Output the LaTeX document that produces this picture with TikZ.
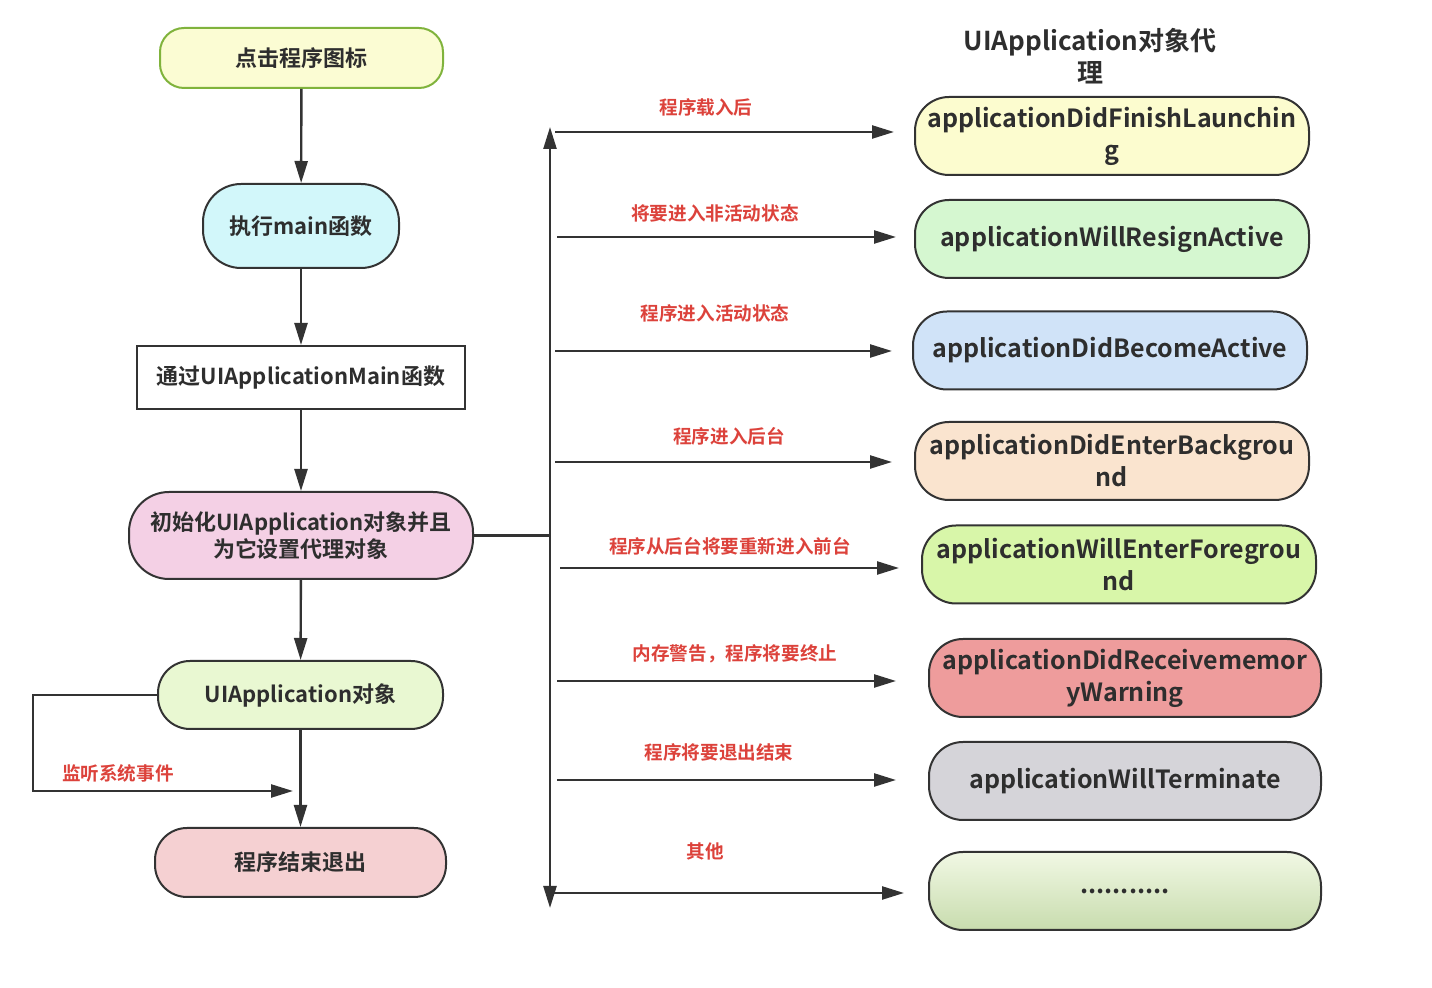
\documentclass[tikz,border=0pt]{standalone}
\usepackage{fontspec}
\setmainfont{Noto Sans CJK SC}[BoldFont={Noto Sans CJK SC Bold}]
\usetikzlibrary{positioning,calc,arrows.meta}

\definecolor{linegray}{HTML}{333333}
\definecolor{textgray}{HTML}{2E2E2E}
\definecolor{labred}{HTML}{DC423B}
\definecolor{startgreen}{HTML}{80B33C}
\definecolor{startfill}{HTML}{FBFCD3}
\definecolor{mainfill}{HTML}{D2F7FA}
\definecolor{initfill}{HTML}{F4D0E5}
\definecolor{appfill}{HTML}{E9F8D2}
\definecolor{exitfill}{HTML}{F5D0D2}
\definecolor{launchfill}{HTML}{FCFCCF}
\definecolor{resignfill}{HTML}{D5F7D0}
\definecolor{activefill}{HTML}{D0E3F8}
\definecolor{backfill}{HTML}{FAE4CF}
\definecolor{forefill}{HTML}{D8F6A9}
\definecolor{memfill}{HTML}{EE9C9C}
\definecolor{termfill}{HTML}{D5D4D9}
\definecolor{othertop}{HTML}{F1F8E4}
\definecolor{otherbot}{HTML}{C8DCAE}

\tikzset{
	box/.style={draw=linegray,line width=1pt,text=textgray,align=center,inner sep=0pt,font=\bfseries\fontsize{11}{13.5}\selectfont},
	delegate/.style={box,rounded corners=17pt,minimum width=197pt,minimum height=39pt,font=\bfseries\fontsize{12.5}{16}\selectfont},
	arr/.style={draw=linegray,line width=1.2pt,-{Triangle[length=11pt,width=6.5pt]}},
	lab/.style={text=labred,font=\bfseries\fontsize{9.3}{10}\selectfont},
}

\begin{document}
\begin{tikzpicture}[x=0.5pt,y=-0.5pt]
		\useasboundingbox (0,0) rectangle (1432,988);

		\node[box,draw=startgreen,fill=startfill,rounded corners=12pt,minimum width=141.5pt,minimum height=30pt] (click) at (301.5,58) {点击程序图标};
		\node[box,fill=mainfill,rounded corners=19pt,minimum width=98pt,minimum height=42pt] (main) at (301,226) {执行main函数};
		\node[box,fill=white,minimum width=164pt,minimum height=31.5pt] (appmain) at (301,377.5) {通过UIApplicationMain函数};
		\node[box,fill=initfill,rounded corners=20pt,minimum width=172pt,minimum height=43.5pt] (init) at (301,535.5) {初始化UIApplication对象并且\\为它设置代理对象};
		\node[box,fill=appfill,rounded corners=16pt,minimum width=142.5pt,minimum height=34pt] (app) at (300.5,695) {UIApplication对象};
		\node[box,fill=exitfill,rounded corners=16pt,minimum width=145.5pt,minimum height=34.5pt] (exit) at (300.5,862.5) {程序结束退出};

		\draw[arr] (click) -- (main);
		\draw[arr] (main) -- (appmain);
		\draw[arr] (appmain) -- (init);
		\draw[arr] (init) -- (app);
		\draw[arr] (app) -- (exit);

		\coordinate (listen) at (293,791);
		\draw[arr] (app.west) -- ++(-124,0) |- (listen);
		\node[lab] (listenlab) at (118,773) {监听系统事件};

		\node[text=textgray,align=center,font=\bfseries\fontsize{13}{16}\selectfont] (title) at (1090,56) {UIApplication对象代\\理};

		\node[delegate,fill=launchfill] (launch) at (1112,136) {applicationDidFinishLaunchin\\g};
		\node[delegate,fill=resignfill] (resign) at (1112,239) {applicationWillResignActive};
		\node[delegate,fill=activefill] (active) at (1110,350.5) {applicationDidBecomeActive};
		\node[delegate,fill=backfill] (back) at (1112,461) {applicationDidEnterBackgrou\\nd};
		\node[delegate,fill=forefill] (fore) at (1119,564.5) {applicationWillEnterForegrou\\nd};
		\node[delegate,fill=memfill,minimum width=196pt] (mem) at (1125,678) {applicationDidReceivememor\\yWarning};
		\node[delegate,fill=termfill,minimum width=196pt] (term) at (1125,781) {applicationWillTerminate};
		\node[delegate,top color=othertop,bottom color=otherbot,minimum width=196pt] (other) at (1125,891) {...........};

		\coordinate (up) at (550,127);
		\coordinate (down) at (550,908);
		\draw[arr] (init.east) -| (up);
		\draw[arr] (init.east -| up) -- (down);

		\coordinate (s1) at (555,132);
		\coordinate (s2) at (557,237);
		\coordinate (s3) at (555,351);
		\coordinate (s4) at (555,462);
		\coordinate (s5) at (560,568);
		\coordinate (s6) at (557,681);
		\coordinate (s7) at (557,780);
		\coordinate (s8) at (552,893);

		\draw[arr,shorten >=10pt] (s1) -- (s1 -| launch.west);
		\draw[arr,shorten >=9pt] (s2) -- (s2 -| resign.west);
		\draw[arr,shorten >=10pt] (s3) -- (s3 -| active.west);
		\draw[arr,shorten >=11pt] (s4) -- (s4 -| back.west);
		\draw[arr,shorten >=11pt] (s5) -- (s5 -| fore.west);
		\draw[arr,shorten >=16pt] (s6) -- (s6 -| mem.west);
		\draw[arr,shorten >=16pt] (s7) -- (s7 -| term.west);
		\draw[arr,shorten >=12pt] (s8) -- (s8 -| other.west);

		\node[lab] (l1) at (706,107) {程序载入后};
		\node[lab] (l2) at (715,213) {将要进入非活动状态};
		\node[lab] (l3) at (715,313) {程序进入活动状态};
		\node[lab] (l4) at (729,436) {程序进入后台};
		\node[lab] (l5) at (730,546) {程序从后台将要重新进入前台};
		\node[lab] (l6) at (735,654) {内存警告，程序将要终止};
		\node[lab] (l7) at (719,752) {程序将要退出结束};
		\node[lab] (l8) at (705,851) {其他};
	\end{tikzpicture}
\end{document}
